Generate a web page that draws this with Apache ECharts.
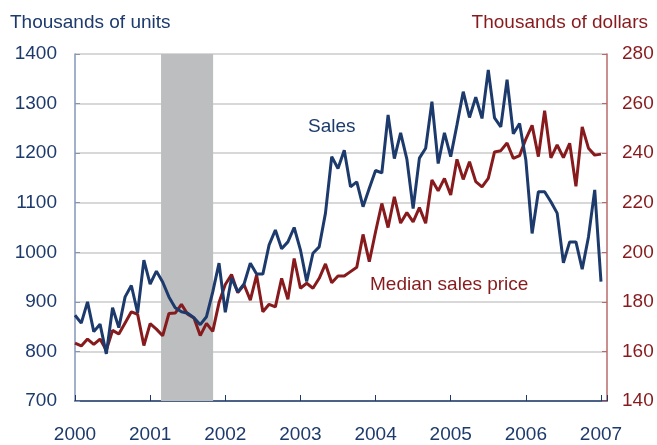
<!DOCTYPE html>
<html>
<head>
<meta charset="utf-8">
<script src="https://cdn.jsdelivr.net/npm/echarts@6/dist/echarts.min.js"></script>
<style>
  html, body { margin: 0; padding: 0; background: #fff; }
  #chart { width: 657px; height: 445px; }
</style>
</head>
<body>
<div id="chart"></div>
<script>
// monthly, Jan 2000 .. Jan 2007
var startYear = 2000;
var years = [2000, 2001, 2002, 2003, 2004, 2005, 2006, 2007];

// thousands of units
var sales = [
  873, 857, 900, 840, 855, 795, 888, 848, 910, 933, 878, 984,
  936, 962, 940, 910, 888, 880, 877, 868, 854, 870, 920, 978,
  879, 948, 920, 936, 978, 956, 956, 1015, 1045, 1007, 1021, 1050,
  1005, 941, 998, 1011, 1079, 1193, 1169, 1206, 1132, 1142, 1092, 1129,
  1165, 1160, 1277, 1189, 1241, 1188, 1088, 1190, 1210, 1304, 1179, 1241,
  1193, 1257, 1324, 1272, 1313, 1270, 1368, 1271, 1253, 1348, 1239, 1260,
  1186, 1038, 1122, 1122, 1102, 1079, 979, 1021, 1021, 966, 1031, 1126,
  941
];

// thousands of dollars
var price = [
  163.3, 162.2, 165, 162.8, 165, 160.5, 168.5, 167, 171.5, 176, 175, 162.4,
  171.2, 169, 166.3, 175.3, 175.5, 179, 175, 173.5, 166.4, 171.3, 168.1, 179.7,
  187, 191, 183.7, 186.9, 180.7, 190.8, 176, 179, 178, 189.5, 181, 197.5,
  185.5, 187.5, 185.5, 189.5, 195.3, 187.7, 190.4, 190.4, 192.2, 194, 207.2, 196.2,
  208.3, 219.7, 210, 222.4, 211.8, 216, 212.3, 218, 211.7, 229.2, 224.8, 229.8,
  223.1, 237.5, 229.4, 236.5, 228.5, 226.4, 229.8, 240.5, 241, 244.1, 237.9, 239,
  245.7, 251.2, 238.6, 257.1, 238.1, 243.3, 238.2, 244, 226.6, 250.6, 242, 239.2,
  239.6
];

// recession (Mar 2001 - Nov 2001)
var recession = [2001.145, 2001.838];

var navy = '#1d3a6c';
var red = '#871a1d';
var font = "'Liberation Sans', Arial, sans-serif";

function toPairs(arr) {
  return arr.map(function (v, i) { return [startYear + i / 12, v]; });
}

var myChart = echarts.init(document.getElementById('chart'));
var option = {
  animation: false,
  backgroundColor: '#fff',
  textStyle: { fontFamily: font },
  title: [
    {
      text: 'Thousands of units',
      left: 5, top: 8,
      textStyle: { color: navy, fontSize: 19, fontWeight: 'normal', fontFamily: font }
    },
    {
      text: 'Thousands of dollars',
      right: 4, top: 8,
      textStyle: { color: red, fontSize: 19, fontWeight: 'normal', fontFamily: font }
    }
  ],
  grid: { left: 75, right: 50, top: 54, bottom: 44 },
  xAxis: {
    type: 'value',
    min: 2000,
    max: 2007.08,
    interval: 1,
    axisLine: { lineStyle: { color: navy, width: 1.5 } },
    axisTick: { inside: true, length: 6, lineStyle: { color: navy, width: 1 } },
    axisLabel: {
      color: navy, fontSize: 19, margin: 24, fontFamily: font,
      formatter: function (v) { return years.indexOf(v) >= 0 ? String(v) : ''; }
    },
    splitLine: { show: false }
  },
  yAxis: [
    {
      type: 'value',
      min: 700, max: 1400, interval: 100,
      axisLine: { show: true, lineStyle: { color: '#8496b8', width: 1.5 } },
      axisTick: { show: true, inside: true, length: 5, lineStyle: { color: '#8496b8' } },
      axisLabel: {
        color: navy, fontSize: 19, margin: 18, fontFamily: font,
        formatter: function (v) { return String(v); }
      },
      splitLine: { show: true, lineStyle: { color: '#cbcbcb', width: 1.5 } }
    },
    {
      type: 'value',
      min: 140, max: 280, interval: 20,
      position: 'right',
      axisLine: { show: true, lineStyle: { color: '#b86a6a', width: 1.5 } },
      axisTick: { show: true, inside: true, length: 5, lineStyle: { color: '#b86a6a' } },
      axisLabel: {
        color: red, fontSize: 19, margin: 15, fontFamily: font,
        formatter: function (v) { return String(v); }
      },
      splitLine: { show: false }
    }
  ],
  series: [
    {
      name: 'Median sales price',
      type: 'line',
      yAxisIndex: 1,
      data: toPairs(price),
      showSymbol: false,
      lineStyle: { color: red, width: 3 },
      itemStyle: { color: red },
      markArea: {
        silent: true,
        itemStyle: { color: '#bdbec0' },
        data: [[{ xAxis: recession[0] }, { xAxis: recession[1] }]]
      }
    },
    {
      name: 'Sales',
      type: 'line',
      yAxisIndex: 0,
      data: toPairs(sales),
      showSymbol: false,
      lineStyle: { color: navy, width: 3 },
      itemStyle: { color: navy }
    }
  ],
  graphic: [
    {
      type: 'text', left: 308, top: 117,
      style: { text: 'Sales', fill: navy, fontSize: 19, fontFamily: font }
    },
    {
      type: 'text', left: 370, top: 275,
      style: { text: 'Median sales price', fill: red, fontSize: 19, fontFamily: font }
    }
  ]
};
option && myChart.setOption(option);
</script>
</body>
</html>
